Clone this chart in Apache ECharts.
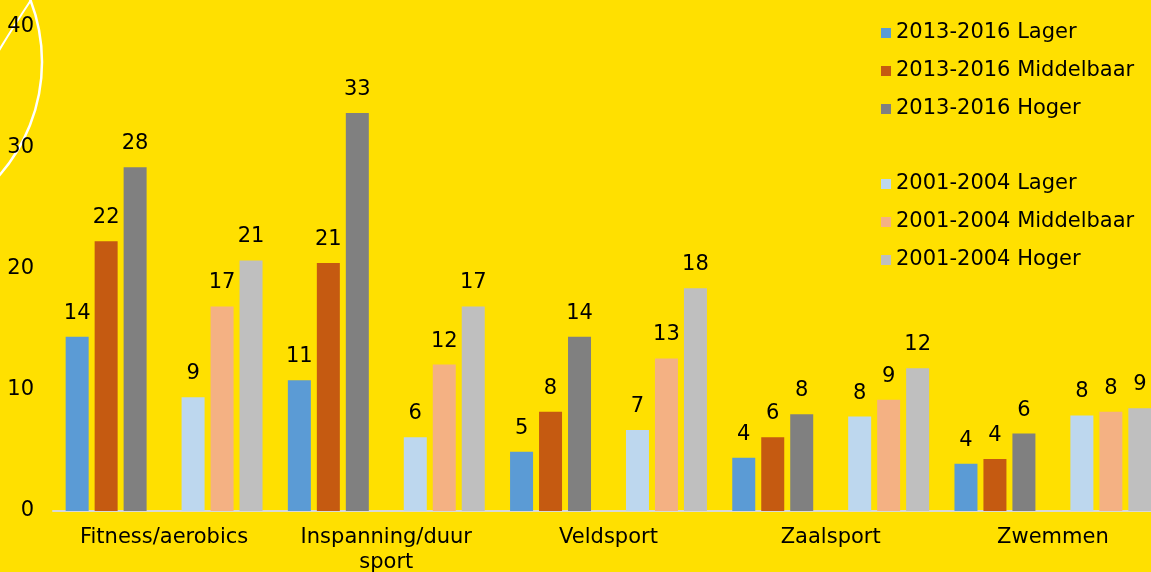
<!DOCTYPE html>
<html>
<head>
<meta charset="utf-8">
<style>
  html, body { margin: 0; padding: 0; background: #ffe000; }
  #chart { width: 1151px; height: 572px; }
</style>
</head>
<body>
<div id="chart"></div>
<script src="https://cdn.jsdelivr.net/npm/echarts@6/dist/echarts.min.js"></script>
<script>
const categories = ['Fitness/aerobics', 'Inspanning/duur\nsport', 'Veldsport', 'Zaalsport', 'Zwemmen']

const recentLager = [14.4, 10.8, 4.9, 4.4, 3.9]
const recentMiddelbaar = [22.3, 20.5, 8.2, 6.1, 4.3]
const recentHoger = [28.4, 32.9, 14.4, 8.0, 6.4]
const earlyLager = [9.4, 6.1, 6.7, 7.8, 7.9]
const earlyMiddelbaar = [16.9, 12.1, 12.6, 9.2, 8.2]
const earlyHoger = [20.7, 16.9, 18.4, 11.8, 8.5]

const recentNames = ['2013-2016 Lager', '2013-2016 Middelbaar', '2013-2016 Hoger']
const earlyNames = ['2001-2004 Lager', '2001-2004 Middelbaar', '2001-2004 Hoger']

const yMin = 0
const yMax = 40
const yStep = 10

const font = 'DejaVu Sans, sans-serif'
const ink = '#000'

function barSeries(name, data, color) {
  return {
    name,
    type: 'bar',
    data,
    barWidth: 23,
    barGap: '26%',
    itemStyle: { color },
    label: {
      show: true,
      position: 'top',
      distance: 13,
      color: ink,
      fontSize: 21,
      fontFamily: font,
      formatter: p => Math.round(p.value),
    },
  }
}

function legendBlock(names, top) {
  return {
    data: names,
    orient: 'vertical',
    left: 876,
    top,
    icon: 'rect',
    itemWidth: 10,
    itemHeight: 10,
    itemGap: 14,
    selectedMode: false,
    textStyle: { color: ink, fontSize: 21, lineHeight: 24, fontFamily: font },
  }
}

function buildOption() {
  return {
    animation: false,
    backgroundColor: '#ffe000',
    grid: { left: 53, right: -13, top: 27, bottom: 61, containLabel: false, outerBoundsMode: 'none' },
    legend: [legendBlock(recentNames, 16), legendBlock(earlyNames, 167)],
    graphic: [
      {
        type: 'circle',
        silent: true,
        shape: { cx: -130, cy: 62, r: 172 },
        style: { fill: 'none', stroke: '#fff', lineWidth: 2.5 },
      },
      {
        type: 'bezierCurve',
        silent: true,
        shape: { x1: 31, y1: 0, x2: -2, y2: 52, cpx1: 15, cpy1: 24 },
        style: { fill: 'none', stroke: '#fff', lineWidth: 2 },
      },
    ],
    xAxis: {
      type: 'category',
      data: categories,
      axisTick: { show: false },
      axisLine: { lineStyle: { color: '#d9d9d9', width: 2 } },
      axisLabel: { interval: 0, margin: 14, lineHeight: 25, color: ink, fontSize: 21, fontFamily: font },
    },
    yAxis: {
      type: 'value',
      min: yMin,
      max: yMax,
      interval: yStep,
      axisLine: { show: false },
      axisTick: { show: false },
      splitLine: { show: false },
      axisLabel: { margin: 19, color: ink, fontSize: 21, fontFamily: font },
    },
    series: [
      barSeries(recentNames[0], recentLager, '#5b9bd5'),
      barSeries(recentNames[1], recentMiddelbaar, '#c55a11'),
      barSeries(recentNames[2], recentHoger, '#808080'),
      { name: 'spacer', type: 'bar', data: [], barWidth: 23, barGap: '26%' },
      barSeries(earlyNames[0], earlyLager, '#bdd7ee'),
      barSeries(earlyNames[1], earlyMiddelbaar, '#f4b183'),
      barSeries(earlyNames[2], earlyHoger, '#bfbfbf'),
    ],
  }
}

const chart = echarts.init(document.getElementById('chart'), null, { renderer: 'canvas' })
chart.setOption(buildOption())
</script>
</body>
</html>
